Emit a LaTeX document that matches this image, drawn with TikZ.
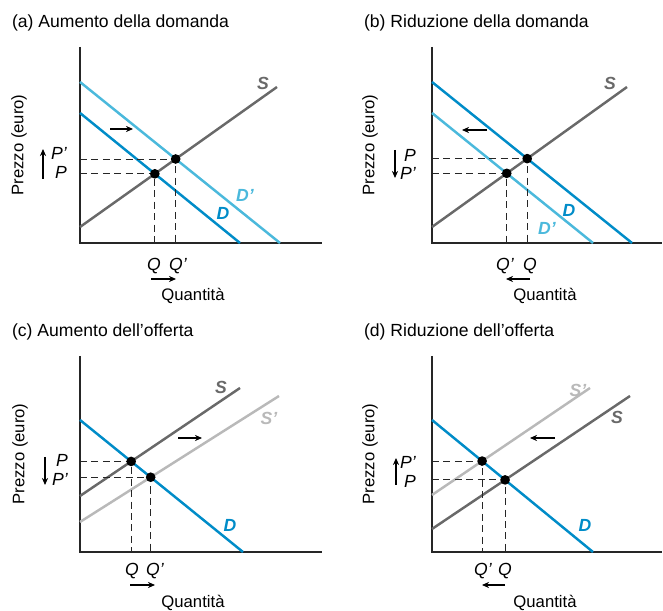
\documentclass[tikz,border=0pt]{standalone}
\usepackage{fontspec}
\setmainfont{Liberation Sans}
\usetikzlibrary{arrows.meta,intersections}
\definecolor{dblue}{RGB}{0,140,200}
\definecolor{lblue}{RGB}{75,185,220}
\definecolor{sgray}{RGB}{105,105,105}
\definecolor{lgray}{RGB}{185,185,185}

\begin{document}
\begin{tikzpicture}[
  x=0.02cm, y=0.02cm,
  every node/.style={font=\fontsize{9}{10}\selectfont,inner sep=1pt},
  title/.style={anchor=west,font=\fontsize{10}{11}\selectfont},
  axlab/.style={font=\fontsize{9.5}{10}\selectfont},
  lab/.style={font=\fontsize{10}{10}\selectfont\itshape,inner sep=0.5pt},
  curvelab/.style={font=\fontsize{10}{10}\selectfont\itshape\bfseries},
  axis/.style={line width=0.8pt,black!85},
  curve/.style={line width=1.4pt},
  guide/.style={line width=0.5pt,black!85,dash pattern=on 4pt off 2.5pt},
  eqdot/.style={circle,fill=black,inner sep=0pt,minimum size=5.5pt},
  shiftarr/.style={-{Stealth[length=4pt,width=3.5pt]},line width=0.7pt},
]
  \useasboundingbox (0,0) rectangle (663,611);

  % (a) Aumento della domanda
  \begin{scope}[shift={(80,368)}]
    \coordinate (Oa) at (0,0);
    \coordinate (ya) at (0,196);
    \coordinate (xa) at (242,0);
    \node[title] (ta) at (-70,220) {(a) Aumento della domanda};
    \draw[axis] (ya) -- (Oa) -- (xa);
    \draw[curve,sgray,name path=Sa] (0,16) coordinate (Sa0) -- (197,156) coordinate (Sa1);
    \draw[curve,dblue,name path=Da] (0,130) coordinate (Da0) -- (160,0) coordinate (Da1);
    \draw[curve,lblue,name path=Dpa] (0,161) coordinate (Dpa0) -- (200,0) coordinate (Dpa1);
    \path[name intersections={of=Sa and Da,by=Ea}];
    \path[name intersections={of=Sa and Dpa,by=Epa}];
    \draw[guide] (Ea -| Oa) -| (Ea |- Oa);
    \draw[guide] (Epa -| Oa) -| (Epa |- Oa);
    \node[eqdot] (ea) at (Ea) {};
    \node[eqdot] (epa) at (Epa) {};
    \node[curvelab,sgray] (lSa) at (183,160) {S};
    \node[curvelab,dblue] (lDa) at (143,30) {D};
    \node[curvelab,lblue] (lDpa) at (165,48) {D'};
    \coordinate (sha0) at (30,114);
    \coordinate (sha1) at (53,114);
    \draw[shiftarr] (sha0) -- (sha1);
    \node[lab,anchor=east] (pa) at (-12,71) {P};
    \node[lab,anchor=east] (ppa) at (-12,90) {P'};
    \coordinate (upa0) at (-37,64);
    \coordinate (upa1) at (-37,94);
    \draw[shiftarr] (upa0) -- (upa1);
    \node[lab] (qa) at (74,-23) {Q};
    \node[lab] (qpa) at (98,-23) {Q'};
    \coordinate (ra0) at (71,-36);
    \coordinate (ra1) at (96,-36);
    \draw[shiftarr] (ra0) -- (ra1);
    \node[axlab] (xla) at (113,-53) {Quantità};
    \node[axlab,rotate=90] (yla) at (-61,98) {Prezzo (euro)};
  \end{scope}

  % (b) Riduzione della domanda
  \begin{scope}[shift={(432,368)}]
    \coordinate (Ob) at (0,0);
    \coordinate (yb) at (0,196);
    \coordinate (xb) at (230,0);
    \node[title] (tb) at (-70,220) {(b) Riduzione della domanda};
    \draw[axis] (yb) -- (Ob) -- (xb);
    \draw[curve,sgray,name path=Sb] (0,16) coordinate (Sb0) -- (195,156) coordinate (Sb1);
    \draw[curve,dblue,name path=Db] (0,161) coordinate (Db0) -- (200,0) coordinate (Db1);
    \draw[curve,lblue,name path=Dpb] (0,130) coordinate (Dpb0) -- (161,0) coordinate (Dpb1);
    \path[name intersections={of=Sb and Db,by=Eb}];
    \path[name intersections={of=Sb and Dpb,by=Epb}];
    \draw[guide] (Eb -| Ob) -| (Eb |- Ob);
    \draw[guide] (Epb -| Ob) -| (Epb |- Ob);
    \node[eqdot] (eb) at (Eb) {};
    \node[eqdot] (epb) at (Epb) {};
    \node[curvelab,sgray] (lSb) at (178,160) {S};
    \node[curvelab,dblue] (lDb) at (137,33) {D};
    \node[curvelab,lblue] (lDpb) at (115,15) {D'};
    \coordinate (shb0) at (55,113);
    \coordinate (shb1) at (30,113);
    \draw[shiftarr] (shb0) -- (shb1);
    \node[lab,anchor=east] (pb) at (-15,88) {P};
    \node[lab,anchor=east] (ppb) at (-15,70) {P'};
    \coordinate (dnb0) at (-37,93);
    \coordinate (dnb1) at (-37,65);
    \draw[shiftarr] (dnb0) -- (dnb1);
    \node[lab] (qpb) at (73,-23) {Q'};
    \node[lab] (qb) at (98,-23) {Q};
    \coordinate (rb0) at (98,-36);
    \coordinate (rb1) at (74,-36);
    \draw[shiftarr] (rb0) -- (rb1);
    \node[axlab] (xlb) at (113,-53) {Quantità};
    \node[axlab,rotate=90] (ylb) at (-62,98) {Prezzo (euro)};
  \end{scope}

  % (c) Aumento dell'offerta
  \begin{scope}[shift={(80,59)}]
    \coordinate (Oc) at (0,0);
    \coordinate (yc) at (0,196);
    \coordinate (xc) at (242,0);
    \node[title] (tc) at (-70,220) {(c) Aumento dell'offerta};
    \draw[axis] (yc) -- (Oc) -- (xc);
    \draw[curve,sgray,name path=Sc] (0,56) coordinate (Sc0) -- (160,164) coordinate (Sc1);
    \draw[curve,lgray,name path=Spc] (0,30) coordinate (Spc0) -- (199,156) coordinate (Spc1);
    \draw[curve,dblue,name path=Dc] (0,132) coordinate (Dc0) -- (163,0) coordinate (Dc1);
    \path[name intersections={of=Sc and Dc,by=Ec}];
    \path[name intersections={of=Spc and Dc,by=Epc}];
    \draw[guide] (Ec -| Oc) -| (Ec |- Oc);
    \draw[guide] (Epc -| Oc) -| (Epc |- Oc);
    \node[eqdot] (ec) at (Ec) {};
    \node[eqdot] (epc) at (Epc) {};
    \node[curvelab,sgray] (lSc) at (141,165) {S};
    \node[curvelab,lgray] (lSpc) at (189,134) {S'};
    \node[curvelab,dblue] (lDc) at (150,27) {D};
    \coordinate (shc0) at (98,114);
    \coordinate (shc1) at (122,114);
    \draw[shiftarr] (shc0) -- (shc1);
    \node[lab,anchor=east] (pc) at (-11,92) {P};
    \node[lab,anchor=east] (ppc) at (-11,73) {P'};
    \coordinate (dnc0) at (-35,95);
    \coordinate (dnc1) at (-35,67);
    \draw[shiftarr] (dnc0) -- (dnc1);
    \node[lab] (qc) at (52,-19) {Q};
    \node[lab] (qpc) at (75,-19) {Q'};
    \coordinate (rc0) at (50,-33);
    \coordinate (rc1) at (75,-33);
    \draw[shiftarr] (rc0) -- (rc1);
    \node[axlab] (xlc) at (113,-51) {Quantità};
    \node[axlab,rotate=90] (ylc) at (-60,98) {Prezzo (euro)};
  \end{scope}

  % (d) Riduzione dell'offerta
  \begin{scope}[shift={(432,59)}]
    \coordinate (Od) at (0,0);
    \coordinate (yd) at (0,196);
    \coordinate (xd) at (230,0);
    \node[title] (td) at (-70,220) {(d) Riduzione dell'offerta};
    \draw[axis] (yd) -- (Od) -- (xd);
    \draw[curve,lgray,name path=Spd] (0,57) coordinate (Spd0) -- (158,164) coordinate (Spd1);
    \draw[curve,sgray,name path=Sd] (0,23) coordinate (Sd0) -- (198,156) coordinate (Sd1);
    \draw[curve,dblue,name path=Dd] (0,132) coordinate (Dd0) -- (161,0) coordinate (Dd1);
    \path[name intersections={of=Sd and Dd,by=Ed}];
    \path[name intersections={of=Spd and Dd,by=Epd}];
    \draw[guide] (Ed -| Od) -| (Ed |- Od);
    \draw[guide] (Epd -| Od) -| (Epd |- Od);
    \node[eqdot] (ed) at (Ed) {};
    \node[eqdot] (epd) at (Epd) {};
    \node[curvelab,lgray] (lSpd) at (146,162) {S'};
    \node[curvelab,sgray] (lSd) at (185,135) {S};
    \node[curvelab,dblue] (lDd) at (153,27) {D};
    \coordinate (shd0) at (123,114);
    \coordinate (shd1) at (98,114);
    \draw[shiftarr] (shd0) -- (shd1);
    \node[lab,anchor=east] (ppd) at (-15,90) {P'};
    \node[lab,anchor=east] (pd) at (-15,71) {P};
    \coordinate (upd0) at (-36,67);
    \coordinate (upd1) at (-36,94);
    \draw[shiftarr] (upd0) -- (upd1);
    \node[lab] (qpd) at (51,-19) {Q'};
    \node[lab] (qd) at (73,-19) {Q};
    \coordinate (rd0) at (73,-33);
    \coordinate (rd1) at (50,-33);
    \draw[shiftarr] (rd0) -- (rd1);
    \node[axlab] (xld) at (113,-51) {Quantità};
    \node[axlab,rotate=90] (yld) at (-62,98) {Prezzo (euro)};
  \end{scope}
\end{tikzpicture}
\end{document}
